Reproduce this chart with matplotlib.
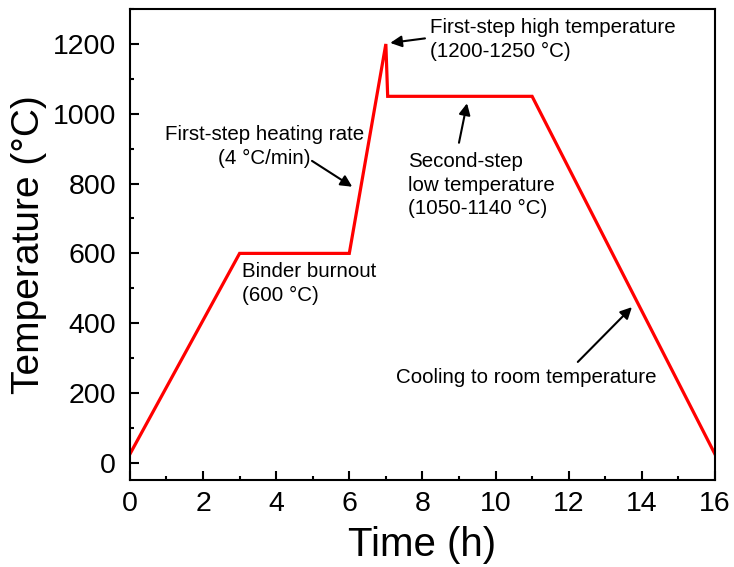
import matplotlib.pyplot as plt
from matplotlib.ticker import MultipleLocator

plt.rcParams['font.family'] = ['Liberation Sans', 'DejaVu Sans']

# heating schedule (time in h, temperature in °C)
time_h = [0, 3, 6, 7, 7.05, 11, 16]
temp_c = [25, 600, 600, 1200, 1050, 1050, 25]

# annotations: text, text position, alignment, arrow tail, arrow head
notes = [
    ('First-step high temperature\n(1200-1250 °C)', (8.2, 1213), 'left', (8.07, 1216), (7.12, 1203)),
    ('First-step heating rate\n(4 °C/min)', (3.67, 906), 'center', (4.98, 865), (6.08, 791)),
    ('Binder burnout\n(600 °C)', (3.07, 513), 'left', None, None),
    ('Second-step\nlow temperature\n(1050-1140 °C)', (7.6, 795), 'left', (9.0, 917), (9.22, 1030)),
    ('Cooling to room temperature', (7.28, 243), 'left', (12.25, 289), (13.73, 446)),
]

fig = plt.figure(figsize=(7.34, 5.67), dpi=100)
ax = fig.add_axes([0.177, 0.153, 0.797, 0.831])

ax.plot(time_h, temp_c, color='#ff0000', lw=2.3, solid_joinstyle='miter')

for text, pos, ha, tail, head in notes:
    ax.text(pos[0], pos[1], text, ha=ha, va='center', multialignment=ha,
            fontsize=14.8, linespacing=1.3)
    if tail is not None:
        ax.annotate('', xy=head, xytext=tail,
                    arrowprops=dict(arrowstyle='-|>', color='k', lw=1.5,
                                    mutation_scale=17, shrinkA=0, shrinkB=0))

ax.set_xlim(0, 16)
ax.set_ylim(-50, 1300)
ax.xaxis.set_major_locator(MultipleLocator(2))
ax.xaxis.set_minor_locator(MultipleLocator(1))
ax.yaxis.set_major_locator(MultipleLocator(200))
ax.yaxis.set_minor_locator(MultipleLocator(100))
ax.tick_params(which='both', direction='in', width=1.5, labelsize=20.5)
ax.tick_params(which='major', length=6.5)
ax.tick_params(which='minor', length=3)
ax.tick_params(axis='x', pad=8)
ax.tick_params(axis='y', pad=10)
for s in ax.spines.values():
    s.set_linewidth(1.5)

ax.set_xlabel('Time (h)', fontsize=29, labelpad=6)
ax.set_ylabel('Temperature (°C)', fontsize=28, labelpad=4)

fig.savefig('out.png', dpi=100)
